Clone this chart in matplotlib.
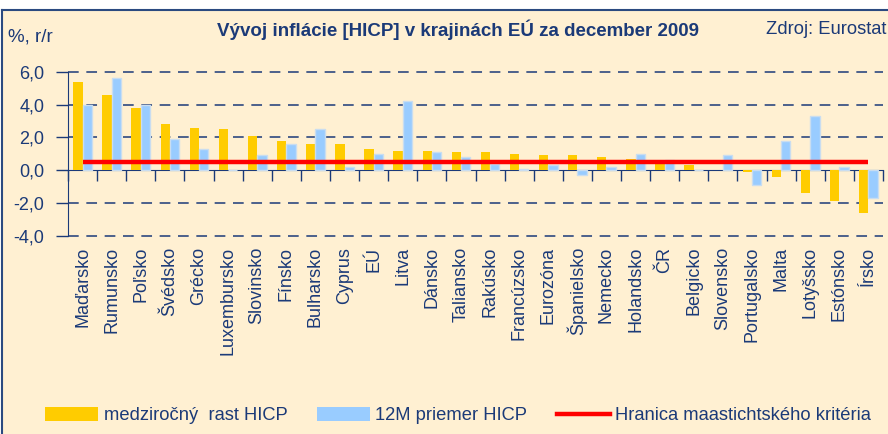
import numpy as np
import matplotlib
matplotlib.use("Agg")
from matplotlib import pyplot as plt
from matplotlib.patches import Patch, Rectangle
from matplotlib.lines import Line2D
from matplotlib.ticker import FuncFormatter

plt.rcParams['font.family'] = ['Liberation Sans', 'DejaVu Sans']

krajiny = ["Maďarsko", "Rumunsko", "Poľsko", "Švédsko", "Grécko", "Luxembursko",
           "Slovinsko", "Fínsko", "Bulharsko", "Cyprus", "EÚ", "Litva", "Dánsko",
           "Taliansko", "Rakúsko", "Francúzsko", "Eurozóna", "Španielsko", "Nemecko",
           "Holandsko", "ČR", "Belgicko", "Slovensko", "Portugalsko", "Malta",
           "Lotyšsko", "Estónsko", "Írsko"]
medzirocny = [5.4, 4.6, 3.8, 2.8, 2.6, 2.5, 2.1, 1.8, 1.6, 1.6, 1.3, 1.2, 1.2,
              1.1, 1.1, 1.0, 0.9, 0.9, 0.8, 0.7, 0.5, 0.3, 0.0, -0.1, -0.4,
              -1.4, -1.9, -2.6]
priemer_12m = [4.0, 5.6, 4.0, 1.9, 1.3, 0.0, 0.9, 1.6, 2.5, 0.2, 1.0, 4.2, 1.1,
               0.8, 0.4, 0.1, 0.3, -0.3, 0.2, 1.0, 0.6, 0.0, 0.9, -0.9, 1.8,
               3.3, 0.2, -1.7]
hranica = 0.5

navy = "#1B3A78"
cream = "#FFF0D2"
yellow = "#FFCC00"
blue = "#99CCFF"

fig = plt.figure(figsize=(8.88, 4.34), dpi=100, facecolor="white")
# kremove pozadie s ramom hore a vlavo
fig.patches.append(Rectangle((2 / 888, 0), 1, 1 - 10 / 434, transform=fig.transFigure,
                             facecolor=cream, edgecolor="none", zorder=-5))
fig.add_artist(Line2D([2 / 888, 2 / 888], [0, 1 - 10 / 434], color="#2B4A80", lw=1.5, zorder=-4))
fig.add_artist(Line2D([2 / 888, 1], [1 - 10 / 434, 1 - 10 / 434], color="#2B4A80", lw=1.5, zorder=-4))

ax = fig.add_axes([68 / 888, 198 / 434, 815 / 888, 164.3 / 434])
ax.set_facecolor("none")

x = np.arange(len(krajiny))
w = 0.32
ax.bar(x - 0.16, medzirocny, w, color=yellow, zorder=3)
ax.bar(x + 0.16, priemer_12m, w, color=blue, edgecolor="#C9DDF0", linewidth=1.0, zorder=3)
ax.plot([x[0], x[-1]], [hranica, hranica], color="#FF0000", lw=3.2, zorder=4,
        solid_capstyle="butt")

ax.set_xlim(-0.5, len(krajiny) - 0.5)
ax.set_ylim(-4, 6)
ax.set_yticks([-4, -2, 0, 2, 4, 6])
ax.yaxis.set_major_formatter(FuncFormatter(lambda v, p: f"{v:.1f}".replace(".", ",")))
ax.tick_params(axis="y", direction="out", length=9, width=1, color=navy,
               labelcolor=navy, labelsize=13, pad=8)
for gy in [-4, -2, 2, 4, 6]:
    ax.axhline(gy, color=navy, lw=1.1, dashes=(7, 5), zorder=1, clip_on=False)

ax.spines["bottom"].set_position(("data", 0))
ax.spines["bottom"].set_color(navy)
ax.spines["left"].set_color(navy)
ax.spines["top"].set_visible(False)
ax.spines["right"].set_visible(False)

ax.set_xticks(np.arange(len(krajiny) + 1) - 0.5)
ax.set_xticklabels([])
ax.tick_params(axis="x", which="major", direction="out", length=8, width=1, color=navy)
ax.set_xticks(x, minor=True)
ax.set_xticklabels(krajiny, minor=True, rotation=90, color=navy, fontsize=13)
ax.tick_params(axis="x", which="minor", length=0, pad=55)

fig.text(0.009, 1 - 37 / 434, "%, r/r", color=navy, fontsize=13.5, ha="left", va="center")
fig.text(458 / 888, 1 - 30 / 434, "Vývoj inflácie [HICP] v krajinách EÚ za december 2009",
         color=navy, fontsize=13.5, fontweight="bold", ha="center", va="center")
fig.text(886 / 888, 1 - 29 / 434, "Zdroj: Eurostat", color=navy, fontsize=13.2,
         ha="right", va="center")

handles = [Patch(facecolor=yellow), Patch(facecolor=blue),
           Line2D([], [], color="#FF0000", lw=3.2)]
labels = ["medziročný  rast HICP", "12M priemer HICP", "Hranica maastichtského kritéria"]
leg = fig.legend(handles, labels, loc="center", bbox_to_anchor=(458 / 888, 0.042), ncol=3,
                 frameon=False, fontsize=13.2, handlelength=2.9, handleheight=0.75,
                 handletextpad=0.3, columnspacing=1.6)
for t in leg.get_texts():
    t.set_color(navy)

fig.savefig("out.png", dpi=100, facecolor="white")
